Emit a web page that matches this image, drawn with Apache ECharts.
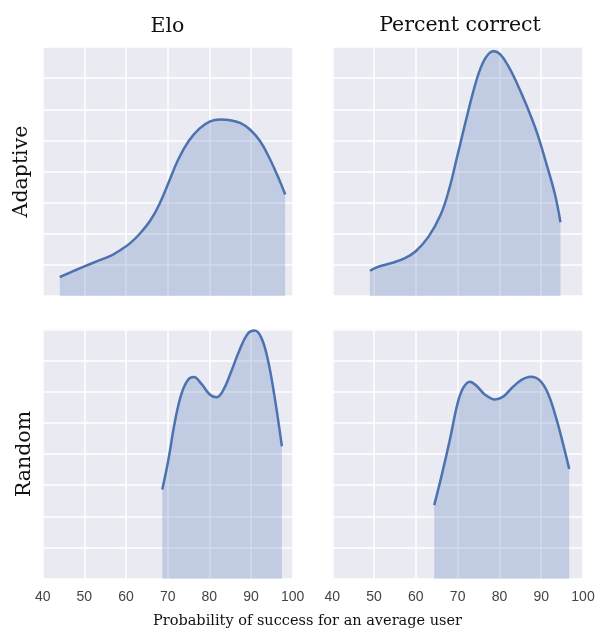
<!DOCTYPE html>
<html>
<head>
<meta charset="utf-8">
<script src="https://cdn.jsdelivr.net/npm/echarts@6/dist/echarts.min.js"></script>
<style>html,body{margin:0;padding:0;background:#fff}#c{width:598px;height:629px}</style>
</head>
<body>
<div id="c"></div>
<script>
const colTitles = ['Elo', 'Percent correct'];
const rowTitles = ['Adaptive', 'Random'];
const xLabel = 'Probability of success for an average user';
const xTicks = [40, 50, 60, 70, 80, 90, 100];

const eloAdaptive = [
  [44.1,0.61],[47.7,0.82],[50,0.95],[53.1,1.12],[56.3,1.29],[58.6,1.47],[61,1.7],
  [63.3,2.0],[65.9,2.44],[68,2.95],[70.2,3.64],[72.5,4.38],[75,4.97],[77.6,5.38],
  [80.2,5.61],[82.6,5.67],[85,5.65],[87.4,5.56],[89.8,5.34],[92.2,4.97],
  [94.5,4.41],[96.5,3.82],[98.2,3.26]
];
const pctAdaptive = [
  [49.0,0.81],[51.0,0.94],[54.2,1.06],[57.4,1.22],[59.9,1.43],[63,1.9],[65.9,2.6],
  [67.9,3.4],[69.8,4.43],[71.8,5.54],[73.8,6.6],[75.4,7.29],[77,7.71],[78.6,7.86],
  [80.2,7.76],[82.1,7.39],[84.1,6.86],[86.5,6.12],[88.9,5.28],[91.3,4.22],[93.3,3.26],
  [94.6,2.37]
];
const eloRandom = [
  [68.7,2.86],[70.2,3.84],[71.7,5.02],[73.3,5.93],[74.9,6.38],[76.3,6.47],[78.1,6.25],
  [80.1,5.91],[81.7,5.82],[83.3,6.04],[85.2,6.63],[87.2,7.32],[89.2,7.86],[90.8,7.96],
  [92.4,7.75],[94.0,7.05],[95.6,5.88],[97.4,4.25]
];
const pctRandom = [
  [64.4,2.36],[66.2,3.33],[68.2,4.5],[70,5.63],[71.3,6.11],[72.9,6.32],[74.5,6.19],
  [76.5,5.91],[78.9,5.75],[80.9,5.84],[82.9,6.11],[85.2,6.37],[87.5,6.48],[89.6,6.37],
  [91.6,5.95],[93.6,5.14],[95.2,4.34],[96.7,3.52]
];
const panels = [eloAdaptive, pctAdaptive, eloRandom, pctRandom];

const grids = [
  {left: 42.7, top: 47, width: 250, height: 249},
  {left: 332.3, top: 47, width: 250.7, height: 249},
  {left: 42.7, top: 329.3, width: 250, height: 249.4},
  {left: 332.3, top: 329.3, width: 250.7, height: 249.4}
].map(g => Object.assign(g, {show: true, backgroundColor: '#eaeaf2', borderWidth: 0, containLabel: false}));

const xAxes = grids.map((g, i) => ({
  type: 'value', gridIndex: i, min: 40, max: 100, interval: 10,
  axisLine: {show: false}, axisTick: {show: false},
  axisLabel: {show: i >= 2, color: '#444', fontFamily: 'Liberation Sans', fontSize: 14, margin: 11,
    formatter: v => xTicks.includes(v) ? String(v) : ''},
  splitLine: {show: true, lineStyle: {color: '#ffffff', width: 1.5}}
}));
const yAxes = grids.map((g, i) => ({
  type: 'value', gridIndex: i, min: 0, max: 8, interval: 1,
  axisLine: {show: false}, axisTick: {show: false}, axisLabel: {show: false},
  splitLine: {show: true, lineStyle: {color: '#ffffff', width: 1.5}}
}));
const series = panels.map((d, i) => ({
  type: 'line', xAxisIndex: i, yAxisIndex: i, data: d, smooth: 0.4, symbol: 'none',
  lineStyle: {color: '#4c72b0', width: 2.5},
  areaStyle: {color: '#4c72b0', opacity: 0.26, origin: 'start'}
}));

const chart = echarts.init(document.getElementById('c'), null, {renderer: 'canvas'});
chart.setOption({
  animation: false,
  grid: grids, xAxis: xAxes, yAxis: yAxes, series: series,
  graphic: [
    {type: 'text', x: 167.5, y: 27, style: {text: colTitles[0], font: '20.5px "DejaVu Serif"', fill: '#111', align: 'center', verticalAlign: 'middle'}},
    {type: 'text', x: 460, y: 26, style: {text: colTitles[1], font: '20.5px "DejaVu Serif"', fill: '#111', align: 'center', verticalAlign: 'middle'}},
    {type: 'text', x: 22, y: 171.5, rotation: Math.PI/2, style: {text: rowTitles[0], font: '20.5px "DejaVu Serif"', fill: '#111', align: 'center', verticalAlign: 'middle'}},
    {type: 'text', x: 25, y: 454, rotation: Math.PI/2, style: {text: rowTitles[1], font: '20.5px "DejaVu Serif"', fill: '#111', align: 'center', verticalAlign: 'middle'}},
    {type: 'text', x: 307.5, y: 621, style: {text: xLabel, font: '14.5px "DejaVu Serif"', fill: '#111', align: 'center', verticalAlign: 'middle'}}
  ]
});
</script>
</body>
</html>
